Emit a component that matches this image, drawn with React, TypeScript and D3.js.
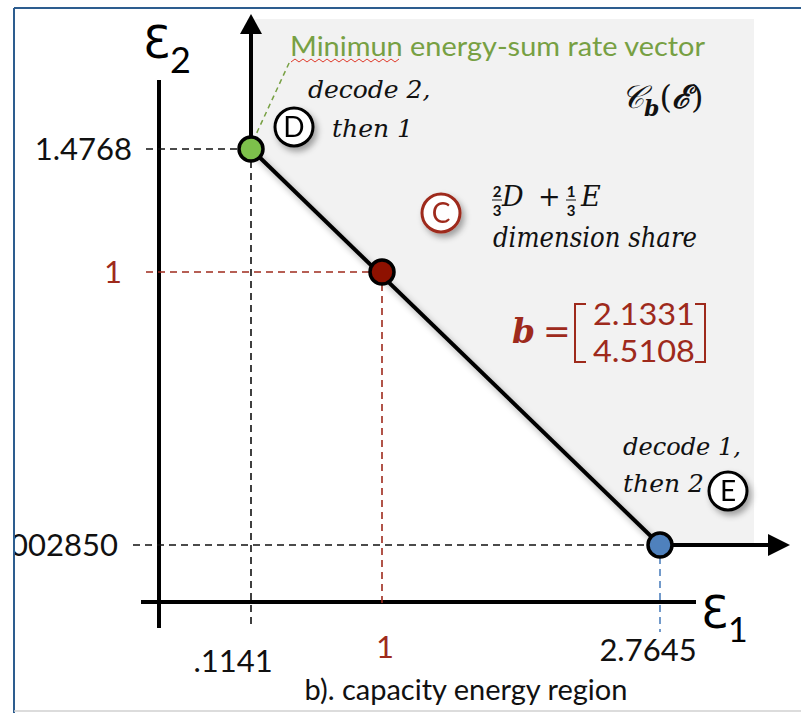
import React from "react";
import * as d3 from "d3";

// rate points D, C, E on the dominant face
const pointNames = ["D", "C", "E"];
const e1Values = [0.1141, 1, 2.7645];
const e2Values = [1.4768, 1, 0.00285];
const e1TickLabels = [".1141", "1", "2.7645"];
const e2TickLabels = ["1.4768", "1", "002850"];
const pointColors = ["#7dc04b", "#8e1100", "#4f81bd"];
const guideColors = ["#111", "#9e2a1c", "#4f81bd"];
const labelColors = ["#111", "#9e2a1c", "#111"];
const bVector = ["2.1331", "4.5108"];

const W = 801;
const H = 713;
const RED = "#9e2a1c";
const GREEN = "#77a043";
const SANS = "Lato, 'Open Sans', sans-serif";
const SERIF = "'DejaVu Serif', 'Liberation Serif', serif";
const MATH = "'DejaVu Serif', serif";
const EPS = "'Open Sans', 'DejaVu Sans', sans-serif";

const xScale = d3.scaleLinear().domain([0, 0.1141, 1, 2.7645]).range([159, 251, 382, 660]);
const yScale = d3.scaleLinear().domain([0, 0.00285, 1, 1.4768]).range([602, 545, 272, 149]);

// layout bits per point (where dashed guides / tick labels sit)
const hGuideStart = [146, 146, 133];
const vGuideEnd = [625, 608, 632];
const xLabelBaseline = [672, 658, 661];
const xLabelShift = [-18, 3, -12];
const yLabelRight = [132, 122, 118];

const Circled = ({ x, y, text, color }: { x: number; y: number; text: string; color: string }) => (
  <g filter="url(#shadow)">
    <circle cx={x} cy={y} r={19} fill="#fff" stroke={color} strokeWidth={3} />
    <text x={x} y={y + 10} textAnchor="middle" fontFamily={SANS} fontSize={28} fill={color}>
      {text}
    </text>
  </g>
);

const App = () => {
  const pts = e1Values.map((v, i) => ({
    name: pointNames[i],
    x: xScale(v),
    y: yScale(e2Values[i]),
  }));
  const [D, C, E] = pts;
  const regionRight = 754;
  const regionTop = 19;
  const region = d3.line()([
    [D.x, regionTop],
    [regionRight, regionTop],
    [regionRight, E.y],
    [E.x, E.y],
    [D.x, D.y],
  ]) + "Z";

  return (
    <svg width={W} height={H} style={{ position: "absolute", left: 0, top: 0, background: "#fff" }}>
      <defs>
        <filter id="shadow" x="-30%" y="-30%" width="160%" height="160%">
          <feDropShadow dx={3} dy={4} stdDeviation={3} floodColor="#000" floodOpacity={0.35} />
        </filter>
        <clipPath id="frameClip">
          <rect x={15} y={9} width={W} height={H} />
        </clipPath>
      </defs>

      {/* frame */}
      <line x1={14} x2={W} y1={8} y2={8} stroke="#2d5d8f" strokeWidth={2} />
      <line x1={14} x2={14} y1={8} y2={H} stroke="#2d5d8f" strokeWidth={2} />
      <line x1={14} x2={W} y1={711} y2={711} stroke="#d0d0d0" strokeWidth={1.5} />

      {/* capacity region */}
      <path d={region} fill="#f2f2f2" />

      {/* main axes */}
      <line x1={xScale(0)} x2={xScale(0)} y1={80} y2={628} stroke="#000" strokeWidth={4} />
      <line x1={141} x2={696} y1={yScale(0)} y2={yScale(0)} stroke="#000" strokeWidth={4} />

      {/* dashed guides */}
      {pts.map((p, i) => (
        <g key={p.name} strokeWidth={1.6} strokeDasharray="7,5" fill="none">
          <line x1={hGuideStart[i]} x2={p.x} y1={p.y} y2={p.y} stroke={guideColors[i === 2 ? 0 : i]} />
          <line x1={p.x} x2={p.x} y1={p.y} y2={vGuideEnd[i]} stroke={guideColors[i]} />
        </g>
      ))}

      {/* arrow axes from D and E */}
      <line x1={D.x} x2={D.x} y1={D.y} y2={30} stroke="#000" strokeWidth={4} />
      <path d={`M${D.x - 11},${34}L${D.x},${14}L${D.x + 11},${34}Z`} fill="#000" />
      <line x1={E.x} x2={772} y1={E.y} y2={E.y} stroke="#000" strokeWidth={4} />
      <path d={`M${768},${E.y - 11}L${790},${E.y}L${768},${E.y + 11}Z`} fill="#000" />

      {/* dominant face */}
      <line x1={D.x} y1={D.y} x2={E.x} y2={E.y} stroke="#000" strokeWidth={4} filter="url(#shadow)" />

      {/* green pointer to D */}
      <line x1={D.x + 2} y1={D.y - 8} x2={290} y2={61} stroke={GREEN} strokeWidth={1.5} strokeDasharray="5,4" />

      {/* points */}
      {pts.map((p, i) => (
        <circle key={p.name} cx={p.x} cy={p.y} r={12} fill={pointColors[i]} stroke="#000" strokeWidth={3.5} />
      ))}

      {/* tick labels */}
      <g clipPath="url(#frameClip)">
        {pts.map((p, i) => (
          <text key={"y" + i} x={yLabelRight[i]} y={p.y + 11} textAnchor="end" fontFamily={SANS} fontSize={31} fill={labelColors[i]}>
            {e2TickLabels[i]}
          </text>
        ))}
      </g>
      {pts.map((p, i) => (
        <text key={"x" + i} x={p.x + xLabelShift[i]} y={xLabelBaseline[i]} textAnchor="middle" fontFamily={SANS} fontSize={31} fill={labelColors[i]}>
          {e1TickLabels[i]}
        </text>
      ))}

      {/* axis names */}
      <text x={143} y={58} fontFamily={EPS} fontSize={44} fill="#000">
        Ɛ<tspan fontFamily={SANS} fontSize={36} dy={15}>2</tspan>
      </text>
      <text x={701} y={628} fontFamily={EPS} fontSize={44} fill="#000">
        Ɛ<tspan fontFamily={SANS} fontSize={34} dy={14}>1</tspan>
      </text>

      {/* annotations */}
      <text x={290} y={56} fontFamily={SANS} fontSize={26} fill={GREEN} textLength={415} lengthAdjust="spacingAndGlyphs">
        Minimun energy-sum rate vector
      </text>
      <path
        d={d3.range(0, 112, 4).map((dx, k) => `${k === 0 ? "M" : "L"}${291 + dx},${k % 2 ? 59 : 62}`).join("")}
        fill="none"
        stroke="#e03a2a"
        strokeWidth={1}
      />

      <text x={308} y={98} fontFamily={SERIF} fontStyle="italic" fontSize={25} fill="#111">
        decode 2,
      </text>
      <Circled x={294} y={127} text="D" color="#000" />
      <text x={332} y={137} fontFamily={SERIF} fontStyle="italic" fontSize={25} fill="#111">
        then 1
      </text>

      <text x={621} y={108} fontFamily={MATH} fontStyle="italic" fontSize={32} fill="#111">
        𝒞<tspan fontWeight="bold" fontSize={22} dy={8}>b</tspan>
        <tspan dy={-8} fontStyle="normal">(</tspan>
        <tspan fontWeight="bold">ℰ</tspan>
        <tspan fontStyle="normal">)</tspan>
      </text>

      <Circled x={441} y={213} text="C" color={RED} />
      <g fontFamily={SERIF} fill="#111">
        <text x={497} y={197} fontFamily={SANS} fontSize={15} fontWeight="bold" textAnchor="middle">2</text>
        <line x1={492} x2={502} y1={200} y2={200} stroke="#111" strokeWidth={1} />
        <text x={497} y={216} fontFamily={SANS} fontSize={15} fontWeight="bold" textAnchor="middle">3</text>
        <text x={502} y={206} fontSize={27} fontStyle="italic">D</text>
        <text x={538} y={206} fontSize={27}>+</text>
        <text x={571} y={197} fontFamily={SANS} fontSize={15} fontWeight="bold" textAnchor="middle">1</text>
        <line x1={566} x2={576} y1={200} y2={200} stroke="#111" strokeWidth={1} />
        <text x={571} y={216} fontFamily={SANS} fontSize={15} fontWeight="bold" textAnchor="middle">3</text>
        <text x={581} y={206} fontSize={27} fontStyle="italic">E</text>
        <text x={493} y={247} fontSize={27} fontStyle="italic" textLength={204} lengthAdjust="spacingAndGlyphs">
          dimension share
        </text>
      </g>

      <g fill={RED}>
        <text x={512} y={343} fontFamily={SERIF} fontSize={33} fontStyle="italic" fontWeight="bold">b</text>
        <text x={543} y={343} fontFamily={SERIF} fontSize={33}>=</text>
        <path d="M586,304H575V362H586" fill="none" stroke={RED} strokeWidth={2} />
        <path d="M695,304H705V362H695" fill="none" stroke={RED} strokeWidth={2} />
        {bVector.map((v, i) => (
          <text key={v} x={644} y={325 + i * 37} textAnchor="middle" fontFamily={SANS} fontSize={30} textLength={102} lengthAdjust="spacingAndGlyphs">
            {v}
          </text>
        ))}
      </g>

      <text x={623} y={455} fontFamily={SERIF} fontStyle="italic" fontSize={25} fill="#111" textLength={118} lengthAdjust="spacingAndGlyphs">
        decode 1,
      </text>
      <text x={623} y={492} fontFamily={SERIF} fontStyle="italic" fontSize={25} fill="#111">
        then 2
      </text>
      <Circled x={728} y={491} text="E" color="#000" />

      <text x={466} y={700} textAnchor="middle" fontFamily={SANS} fontSize={29} fill="#111">
        b). capacity energy region
      </text>
    </svg>
  );
};

export default App;
